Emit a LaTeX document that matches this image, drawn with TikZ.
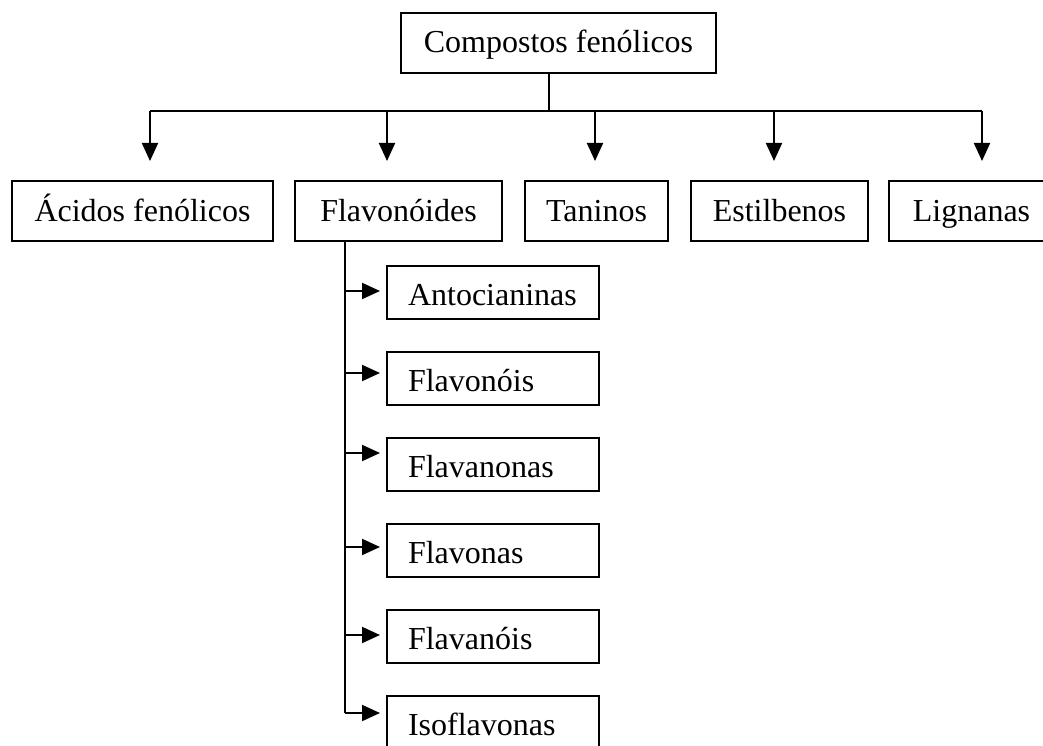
\documentclass[tikz,border=0pt]{standalone}
\usepackage{fontspec}
\setmainfont{Liberation Serif}
\usetikzlibrary{positioning}
\usetikzlibrary{arrows.meta}

\begin{document}
\begin{tikzpicture}[x=1pt, y=-1pt,
  caixa/.style={draw, line width=2pt, outer sep=0pt, inner sep=0pt, text height=24pt, text depth=4pt, minimum height=60pt, font=\fontsize{32}{38}\selectfont},
  subcaixa/.style={draw, line width=2pt, outer sep=0pt, inner xsep=21pt, inner ysep=0pt, text width=170pt, text height=25pt, text depth=0pt, align=left, minimum height=53pt, font=\fontsize{32}{38}\selectfont},
  seta/.style={line width=2pt, -{Triangle[length=18pt, width=16pt]}}]
\useasboundingbox (0,0) rectangle (1043,746);

\node (compostos) [caixa, minimum width=315pt] at (558.5,43) {Compostos fenólicos};

\node (acidos) [caixa, minimum width=261pt] at (142.5,211) {Ácidos fenólicos};
\node (flavonoides) [caixa, minimum width=207pt, right=22pt of acidos] {Flavonóides};
\node (taninos) [caixa, minimum width=143pt, right=23pt of flavonoides] {Taninos};
\node (estilbenos) [caixa, minimum width=177pt, right=23pt of taninos] {Estilbenos};
\node (lignanas) [caixa, minimum width=165pt, right=21pt of estilbenos] {Lignanas};

\node (antocianinas) [subcaixa] at (493,292.5) {Antocianinas};
\node (flavonois) [subcaixa, below=33pt of antocianinas] {Flavonóis};
\node (flavanonas) [subcaixa, below=33pt of flavonois] {Flavanonas};
\node (flavonas) [subcaixa, below=33pt of flavanonas] {Flavonas};
\node (flavanois) [subcaixa, below=33pt of flavonas] {Flavanóis};
\node (isoflavonas) [subcaixa, below=33pt of flavanois] {Isoflavonas};

% tronco principal
\coordinate (tronco) at (549,111);
\draw [line width=2pt] (compostos.south -| tronco) -- (tronco);
\draw [line width=2pt] (150,111) -- (982,111);
\foreach \x/\n in {150/acidos, 387/flavonoides, 595/taninos, 774/estilbenos, 982/lignanas}
  \draw [seta, shorten >=20pt] (\x,111) -- (\x,111 |- \n.north);

% ramo dos flavonoides
\coordinate (ramo) at (345,713);
\draw [line width=2pt] (flavonoides.south -| ramo) -- (ramo);
\foreach \y/\n in {291/antocianinas, 373/flavonois, 453/flavanonas, 547/flavonas, 635/flavanois, 713/isoflavonas}
  \draw [seta, shorten >=7pt] (345,\y) -- (\n.west |- 345,\y);

\end{tikzpicture}
\end{document}
